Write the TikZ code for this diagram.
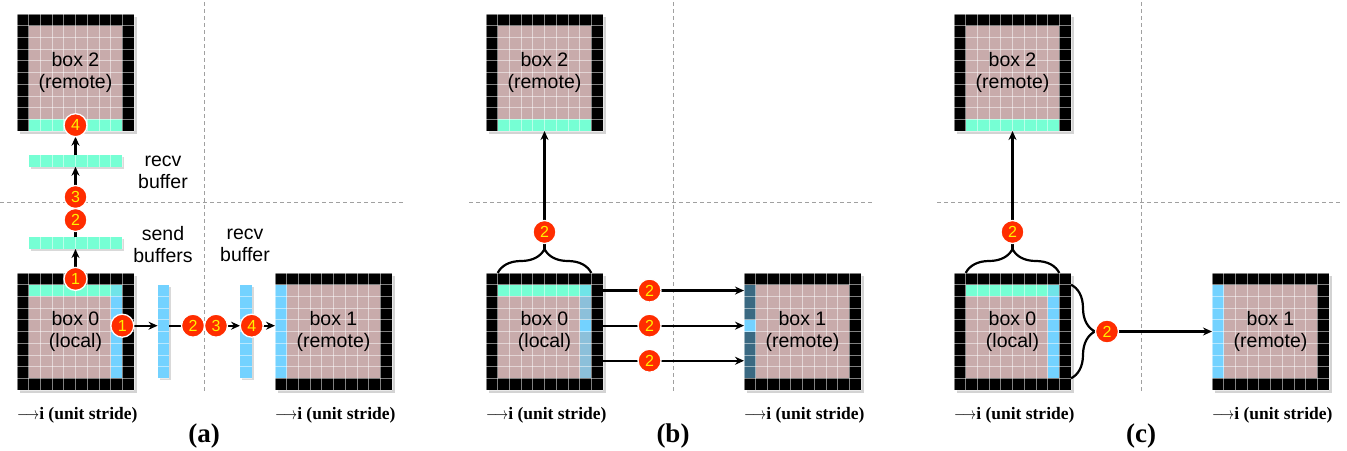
\documentclass[tikz,border=0pt]{standalone}
\usepackage{fontspec}
\setmainfont{Liberation Serif}
\setsansfont{Liberation Sans}
\usetikzlibrary{arrows.meta,calc,decorations.pathreplacing,shadows}

\definecolor{tilepink}{RGB}{200,171,171}
\definecolor{halo}{RGB}{118,255,212}
\definecolor{skyb}{RGB}{115,210,255}
\definecolor{mixb}{RGB}{112,228,232}
\definecolor{dimb}{RGB}{140,192,218}
\definecolor{deepb}{RGB}{58,105,130}
\definecolor{marker}{RGB}{255,45,0}
\definecolor{sepgray}{RGB}{160,160,160}

\pgfdeclarelayer{front}
\pgfsetlayers{main,front}

\newcommand{\tilebase}[3]{%
  \node[tile] (#1) at (#2+58.5,#3+58.5) {};
  \fill[tilepink] (#2+11.7,#3+11.7) rectangle +(93.6,93.6);
}
\newcommand{\tilegrid}[4]{%
  \foreach \k in {0,...,10}{
    \draw[cellline] (#2+\k*11.7,#3) -- +(0,117);
    \draw[cellline] (#2,#3+\k*11.7) -- +(117,0);
  }
  \node[tiletext] (#1) at (#2+58.5,#3+58.5) {#4};
}

\begin{document}
\begin{tikzpicture}[x=1pt,y=-1pt]
\tikzstyle{every node}+=[inner sep=0pt,outer sep=0pt]
\tikzstyle{tile}=[fill=black,minimum size=117pt,drop shadow={opacity=0.35,shadow xshift=3pt,shadow yshift=-3pt}]
\tikzstyle{cellline}=[white,opacity=0.5,line width=0.8pt]
\tikzstyle{tiletext}=[align=center,font=\sffamily\fontsize{19.5}{22}\selectfont]
\tikzstyle{hbar}=[fill=halo,minimum width=93.6pt,minimum height=11.7pt,drop shadow={opacity=0.3,shadow xshift=2pt,shadow yshift=-2pt}]
\tikzstyle{vbar}=[fill=skyb,minimum width=11.7pt,minimum height=93.6pt,drop shadow={opacity=0.3,shadow xshift=2pt,shadow yshift=-2pt}]
\tikzstyle{stepmark}=[circle,fill=marker,draw=white,line width=1.3pt,minimum size=23pt,text=yellow,font=\sffamily\fontsize{16}{16}\selectfont]
\tikzstyle{flow}=[line width=2.2pt,-{Stealth[length=9pt,width=8pt]}]
\tikzstyle{bracem}=[line width=2.2pt,decorate,decoration={brace,amplitude=24pt}]
\tikzstyle{sep}=[sepgray,line width=0.8pt,dash pattern=on 4pt off 3pt]
\tikzstyle{axis}=[anchor=west,font=\bfseries\fontsize{17.5}{20}\selectfont]
\tikzstyle{panel}=[font=\bfseries\fontsize{27}{30}\selectfont]

\useasboundingbox (0,0) rectangle (1347,450);

\draw[sep] (204,2) -- (204,392);
\draw[sep] (0,202) -- (403,202);
\draw[sep] (673,2) -- (673,392);
\draw[sep] (469,202) -- (872,202);
\draw[sep] (1141,2) -- (1141,392);
\draw[sep] (937,202) -- (1340,202);

% (a)
\tilebase{a2}{17}{14}
\fill[halo] (28.7,119.3) rectangle +(93.6,11.7);
\tilegrid{a2t}{17}{14}{box 2\\(remote)}

\tilebase{a0}{17}{273}
\fill[halo] (28.7,284.7) rectangle +(81.9,11.7);
\fill[mixb] (110.6,284.7) rectangle +(11.7,11.7);
\fill[skyb] (110.6,296.4) rectangle +(11.7,81.9);
\tilegrid{a0t}{17}{273}{box 0\\(local)}

\tilebase{a1}{275}{273}
\fill[skyb] (275,284.7) rectangle +(11.7,93.6);
\tilegrid{a1t}{275}{273}{box 1\\(remote)}

\node[hbar] (recvh) at (75.5,160.9) {};
\node[hbar] (sendh) at (75.5,243.2) {};
\node[vbar] (sendv) at (163.4,331.5) {};
\node[vbar] (recvv) at (245.9,331.5) {};
\foreach \k in {0,...,8}{
  \draw[cellline] (28.7+\k*11.7,155.05) -- +(0,11.7);
  \draw[cellline] (28.7+\k*11.7,237.35) -- +(0,11.7);
  \draw[cellline] (157.55,284.7+\k*11.7) -- +(11.7,0);
  \draw[cellline] (240.05,284.7+\k*11.7) -- +(11.7,0);
}

\node[tiletext] (recvlab) at (163,172) {recv\\buffer};
\node[tiletext] (sendlab) at (163,245) {send\\buffers};
\node[tiletext] (recvlab2) at (245,245) {recv\\buffer};

\begin{pgfonlayer}{front}
\node[stepmark] (ma4u) at (75.5,125.2) {4};
\node[stepmark] (ma3u) at (75.5,197) {3};
\node[stepmark] (ma2u) at (75.5,220) {2};
\node[stepmark] (ma1u) at (75.5,278.9) {1};
\node[stepmark] (ma1r) at (122.3,325.7) {1};
\node[stepmark] (ma2r) at (193,325.7) {2};
\node[stepmark] (ma3r) at (216,325.7) {3};
\node[stepmark] (ma4r) at (251.7,325.7) {4};
\end{pgfonlayer}

\draw[flow] (ma1u) -- (sendh.south);
\draw[flow] (sendh.north) -- (recvh.south);
\draw[flow] (recvh.north) -- (ma4u);
\draw[flow] (ma1r) -- (ma1r -| sendv.west);
\draw[flow] (sendv.east |- ma2r) -- (recvv.west |- ma2r);
\draw[flow] (ma4r) -- (ma4r -| a1.west);

\node[axis] (axa0) at (17,415) {\scalebox{.8}[1]{$\longrightarrow$}i (unit stride)};
\node[axis] (axa1) at (275,415) {\scalebox{.8}[1]{$\longrightarrow$}i (unit stride)};
\node[panel] (capa) at (204,436) {(a)};

% (b)
\tilebase{b2}{486}{14}
\fill[halo] (497.7,119.3) rectangle +(93.6,11.7);
\tilegrid{b2t}{486}{14}{box 2\\(remote)}

\tilebase{b0}{486}{273}
\fill[halo] (497.7,284.7) rectangle +(81.9,11.7);
\fill[mixb] (579.6,284.7) rectangle +(11.7,11.7);
\fill[dimb] (579.6,296.4) rectangle +(11.7,81.9);
\fill[skyb] (579.6,319.8) rectangle +(11.7,11.7);
\tilegrid{b0t}{486}{273}{box 0\\(local)}

\tilebase{b1}{744}{273}
\fill[deepb] (744,284.7) rectangle +(11.7,93.6);
\fill[skyb] (744,319.8) rectangle +(11.7,11.7);
\tilegrid{b1t}{744}{273}{box 1\\(remote)}

\draw[bracem] ($(b0.north west)+(11.7,0)$) -- ($(b0.north east)+(-11.7,0)$);
\coordinate (btip) at ($(b0.north)+(0,-24)$);
\begin{pgfonlayer}{front}
\node[stepmark] (mb2u) at ($(btip)+(0,-17)$) {2};
\end{pgfonlayer}
\draw[flow] (btip) -- (b2.south);

\foreach \f [count=\i] in {.15,.45,.75}{
  \coordinate (bo\i) at ($(b0.north east)!\f!(b0.south east)$);
  \coordinate (bi\i) at (bo\i -| b1.west);
  \draw[flow] (bo\i) -- (bi\i);
  \begin{pgfonlayer}{front}
  \node[stepmark] (mb\i) at ($(bo\i)!.33!(bi\i)$) {2};
  \end{pgfonlayer}
}

\node[axis] (axb0) at (486,415) {\scalebox{.8}[1]{$\longrightarrow$}i (unit stride)};
\node[axis] (axb1) at (744,415) {\scalebox{.8}[1]{$\longrightarrow$}i (unit stride)};
\node[panel] (capb) at (673,436) {(b)};

% (c)
\tilebase{c2}{954}{14}
\fill[halo] (965.7,119.3) rectangle +(93.6,11.7);
\tilegrid{c2t}{954}{14}{box 2\\(remote)}

\tilebase{c0}{954}{273}
\fill[halo] (965.7,284.7) rectangle +(81.9,11.7);
\fill[mixb] (1047.6,284.7) rectangle +(11.7,11.7);
\fill[skyb] (1047.6,296.4) rectangle +(11.7,81.9);
\tilegrid{c0t}{954}{273}{box 0\\(local)}

\tilebase{c1}{1212}{273}
\fill[skyb] (1212,284.7) rectangle +(11.7,93.6);
\tilegrid{c1t}{1212}{273}{box 1\\(remote)}

\draw[bracem] ($(c0.north west)+(11.7,0)$) -- ($(c0.north east)+(-11.7,0)$);
\draw[bracem] ($(c0.north east)+(0,11.7)$) -- ($(c0.south east)+(0,-11.7)$);
\coordinate (ctip) at ($(c0.north)+(0,-24)$);
\coordinate (ctipr) at ($(c0.east)+(24,0)$);
\begin{pgfonlayer}{front}
\node[stepmark] (mc2u) at ($(ctip)+(0,-17)$) {2};
\node[stepmark] (mc2r) at ($(ctipr)+(12,0)$) {2};
\end{pgfonlayer}
\draw[flow] (ctip) -- (c2.south);
\draw[flow] (mc2r) -- (mc2r -| c1.west);

\node[axis] (axc0) at (954,415) {\scalebox{.8}[1]{$\longrightarrow$}i (unit stride)};
\node[axis] (axc1) at (1212,415) {\scalebox{.8}[1]{$\longrightarrow$}i (unit stride)};
\node[panel] (capc) at (1141,436) {(c)};
\end{tikzpicture}
\end{document}
